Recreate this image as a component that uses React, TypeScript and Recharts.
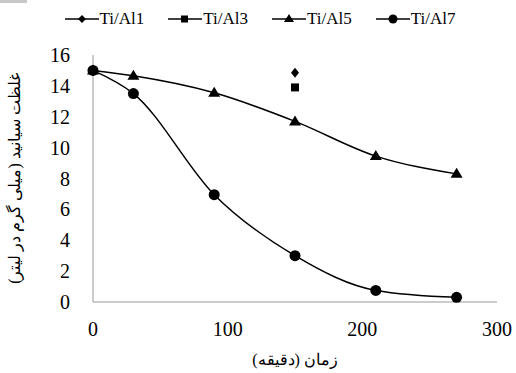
import React from "react";
import { LineChart, Line, XAxis, YAxis } from "recharts";

const xTicks = [0, 100, 200, 300];
const yTicks = [0, 2, 4, 6, 8, 10, 12, 14, 16];

const al1 = [{ t: 150, c: 14.85 }];
const al3 = [{ t: 150, c: 13.9 }];
const al5 = [
  { t: 0, c: 15 },
  { t: 30, c: 14.65 },
  { t: 90, c: 13.55 },
  { t: 150, c: 11.7 },
  { t: 210, c: 9.45 },
  { t: 270, c: 8.3 },
];
const al7 = [
  { t: 0, c: 15 },
  { t: 30, c: 13.5 },
  { t: 90, c: 6.95 },
  { t: 150, c: 3.0 },
  { t: 210, c: 0.75 },
  { t: 270, c: 0.3 },
];

const font = "Liberation Serif, DejaVu Serif, serif";

const Diamond = (p: any) => {
  const { cx, cy } = p;
  if (cx == null) return null;
  return <path d={`M${cx},${cy - 5}L${cx + 4},${cy}L${cx},${cy + 5}L${cx - 4},${cy}Z`} fill="#000" />;
};
const Square = (p: any) => {
  const { cx, cy } = p;
  if (cx == null) return null;
  return <rect x={cx - 4} y={cy - 4} width={8} height={8} fill="#000" />;
};
const Triangle = (p: any) => {
  const { cx, cy } = p;
  if (cx == null) return null;
  return <path d={`M${cx},${cy - 6}L${cx + 6},${cy + 4}L${cx - 6},${cy + 4}Z`} fill="#000" />;
};
const Circle = (p: any) => {
  const { cx, cy } = p;
  if (cx == null) return null;
  return <circle cx={cx} cy={cy} r={5.5} fill="#000" />;
};

const legendItems = [
  { name: "Ti/Al1", icon: <path d="M17,4L21,8L17,12L13,8Z" fill="#000" /> },
  { name: "Ti/Al3", icon: <rect x={13} y={4.5} width={7} height={7} fill="#000" /> },
  { name: "Ti/Al5", icon: <path d="M17,3L22,11L12,11Z" fill="#000" /> },
  { name: "Ti/Al7", icon: <circle cx={17} cy={8} r={4.5} fill="#000" /> },
];

export default function App() {
  return (
    <div style={{ position: "absolute", left: 0, top: 0, width: 516, height: 373, background: "#fff", fontFamily: font }}>
      <style>{`.recharts-wrapper text, .recharts-surface text { font-family: ${font}; }`}</style>
      <div style={{ position: "absolute", left: 0, top: 0, width: 27, height: 3, background: "#c8c8c8" }} />
      <div
        style={{
          position: "absolute",
          top: 9,
          left: 2,
          width: 516,
          display: "flex",
          justifyContent: "center",
          gap: 24,
          fontSize: 17,
          alignItems: "center",
        }}
      >
        {legendItems.map((it) => (
          <div key={it.name} style={{ display: "flex", alignItems: "center" }}>
            <svg width={34} height={16}>
              <line x1={0} y1={8} x2={34} y2={8} stroke="#000" strokeWidth={1.5} />
              {it.icon}
            </svg>
            <span style={{ marginLeft: 1 }}>{it.name}</span>
          </div>
        ))}
      </div>
      <LineChart width={516} height={373} margin={{ top: 55, right: 19, bottom: 0, left: 0 }}>
        <XAxis
          type="number"
          dataKey="t"
          domain={[0, 300]}
          ticks={xTicks}
          tickLine={false}
          axisLine={{ stroke: "#999" }}
          tick={{ fill: "#000", fontSize: 20, fontFamily: font }}
          tickMargin={14}
          height={71}
          label={{ value: "زمان (دقیقه)", position: "insideBottom", offset: 8, fill: "#000", fontSize: 16, fontFamily: font }}
        />
        <YAxis
          type="number"
          domain={[0, 16]}
          ticks={yTicks}
          tickLine={false}
          axisLine={{ stroke: "#999" }}
          tick={{ fill: "#000", fontSize: 20, fontFamily: font }}
          tickMargin={17}
          width={93}
          label={{
            value: "غلظت سیانید (میلی گرم در لیتر)",
            angle: -90,
            position: "insideLeft",
            offset: 14,
            style: { textAnchor: "middle" },
            fill: "#000",
            fontSize: 16,
            fontFamily: font,
          }}
        />
        <Line data={al1} dataKey="c" type="monotone" stroke="#000" strokeWidth={1.5} dot={<Diamond />} isAnimationActive={false} />
        <Line data={al3} dataKey="c" type="monotone" stroke="#000" strokeWidth={1.5} dot={<Square />} isAnimationActive={false} />
        <Line data={al5} dataKey="c" type="monotone" stroke="#000" strokeWidth={1.5} dot={<Triangle />} isAnimationActive={false} />
        <Line data={al7} dataKey="c" type="monotone" stroke="#000" strokeWidth={1.5} dot={<Circle />} isAnimationActive={false} />
      </LineChart>
    </div>
  );
}
